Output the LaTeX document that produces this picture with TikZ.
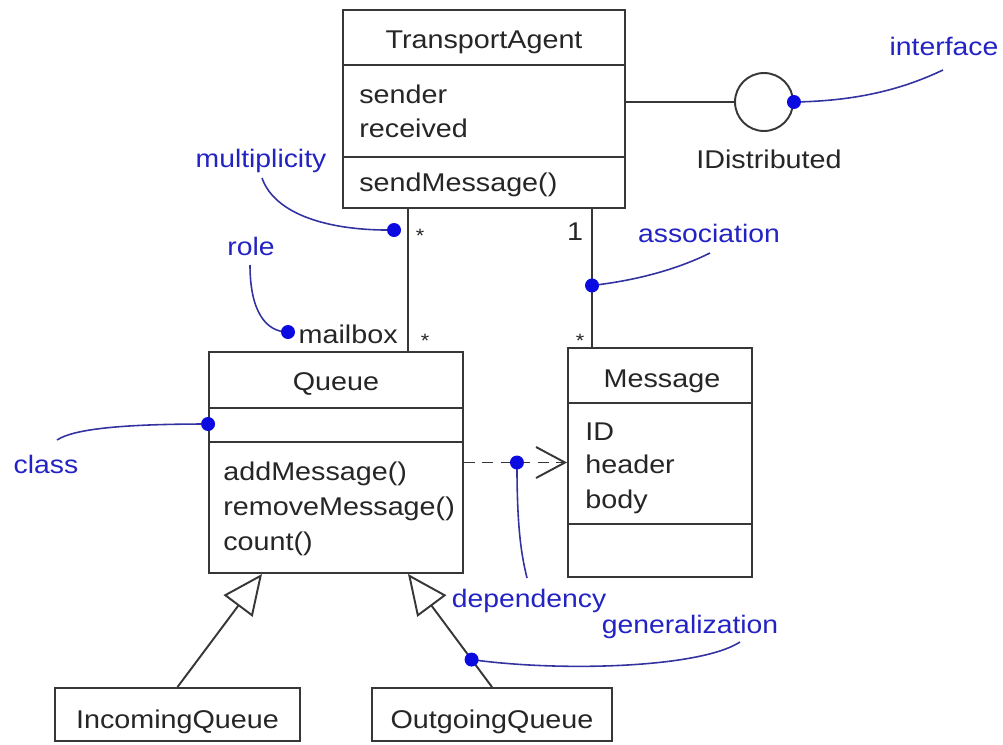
\documentclass[tikz,border=0pt]{standalone}
\usepackage{fontspec}
\setmainfont{Liberation Sans}[FakeStretch=1.12]
\usetikzlibrary{arrows.meta}
\definecolor{noteblue}{RGB}{35,35,195}
\definecolor{pinblue}{RGB}{50,50,160}
\definecolor{dotblue}{RGB}{10,10,225}
\definecolor{umlgray}{RGB}{55,55,55}
\begin{document}
\begin{tikzpicture}[x=0.02cm,y=-0.02cm]
    \tikzstyle{every node}+=[inner sep=0pt]
    \tikzstyle{cls}=[draw=umlgray, line width=1.1pt, fill=white]
    \tikzstyle{txt}=[font=\fontsize{14.6}{17}\selectfont, text=black!85]
    \tikzstyle{note}=[font=\fontsize{14.4}{17}\selectfont, text=noteblue]
    \tikzstyle{star}=[font=\fontsize{11}{13}\selectfont, text=black!85]
    \tikzstyle{link}=[draw=umlgray, line width=1.1pt]
    \tikzstyle{pin}=[draw=pinblue, line width=0.9pt]
    \tikzstyle{dot}=[circle, fill=dotblue, minimum size=0.28cm]
    \useasboundingbox (0,0) rectangle (1003,744);
    \node [cls, minimum width=5.64cm, minimum height=3.96cm] (agent) at (484,109) {};
    \draw [link] (agent.west |- 0,65) -- (agent.east |- 0,65);
    \draw [link] (agent.west |- 0,157) -- (agent.east |- 0,157);
    \node [txt, anchor=base] (agentName) at (484,48) {TransportAgent};
    \node [txt, anchor=base west] (sender) at (359,103) {sender};
    \node [txt, anchor=base west] (received) at (359,137) {received};
    \node [txt, anchor=base west] (sendMsg) at (359,191) {sendMessage()};
    \node [cls, minimum width=5.08cm, minimum height=4.42cm] (queue) at (336,462.5) {};
    \draw [link] (queue.west |- 0,408) -- (queue.east |- 0,408);
    \draw [link] (queue.west |- 0,442) -- (queue.east |- 0,442);
    \node [txt, anchor=base] (queueName) at (336,390) {Queue};
    \node [txt, anchor=base west] (addMsg) at (223,480) {addMessage()};
    \node [txt, anchor=base west] (removeMsg) at (223,515) {removeMessage()};
    \node [txt, anchor=base west] (count) at (223,550) {count()};
    \node [cls, minimum width=3.68cm, minimum height=4.58cm] (message) at (660,462.5) {};
    \draw [link] (message.west |- 0,403) -- (message.east |- 0,403);
    \draw [link] (message.west |- 0,524) -- (message.east |- 0,524);
    \node [txt, anchor=base] (messageName) at (662,387) {Message};
    \node [txt, anchor=base west] (id) at (585,440) {ID};
    \node [txt, anchor=base west] (header) at (585,473) {header};
    \node [txt, anchor=base west] (body) at (585,508) {body};
    \node [cls, minimum width=4.9cm, minimum height=1.06cm] (inQueue) at (177.5,714.5) {};
    \node [txt, anchor=base] at (177.5,728) {IncomingQueue};
    \node [cls, minimum width=4.8cm, minimum height=1.06cm] (outQueue) at (492,714.5) {};
    \node [txt, anchor=base] at (492,728) {OutgoingQueue};
    \node [circle, draw=umlgray, line width=1.1pt, minimum size=1.16cm] (ifc) at (764,102) {};
    \node [txt, anchor=base] (ifcName) at (769,168) {IDistributed};
    \draw [link] (ifc.west) -- (ifc.west -| agent.east);
    \coordinate (qTop) at ([xshift=1.44cm]queue.north);
    \coordinate (mTop) at ([xshift=-1.36cm]message.north);
    \coordinate (qLeft) at ([xshift=-1.48cm]queue.south);
    \coordinate (qRight) at ([xshift=1.44cm]queue.south);
    \draw [link] (qTop) -- (qTop |- agent.south);
    \draw [link] (mTop) -- coordinate[pos=0.446] (assoc) (mTop |- agent.south);
    \draw [link, dash pattern=on 0.22cm off 0.15cm, -{Straight Barb[length=0.58cm, width=0.62cm]}] (queue.east) -- coordinate[pos=0.514] (dep) (message.west);
    \draw [link, -{Triangle[open, fill=white, length=0.8cm, width=0.72cm]}] (inQueue.north) -- (qLeft);
    \draw [link, -{Triangle[open, fill=white, length=0.8cm, width=0.72cm]}] (outQueue.north) -- coordinate[pos=0.243] (gen) (qRight);
    \node [star, anchor=base] at (420,242) {*};
    \node [star, anchor=base] at (425,347) {*};
    \node [star, anchor=base] at (580,347) {*};
    \node [txt, anchor=base] at (575,240) {1};
    \node [txt, anchor=base east] (mailbox) at (398,343) {mailbox};
    \node [note, anchor=base] (lInterface) at (944,55) {interface};
    \node [note, anchor=base] (lMult) at (261,167) {multiplicity};
    \node [note, anchor=base] (lRole) at (251,255) {role};
    \node [note, anchor=base] (lAssoc) at (709,242) {association};
    \node [note, anchor=base] (lClass) at (46,473) {class};
    \node [note, anchor=base] (lDep) at (529,607) {dependency};
    \node [note, anchor=base] (lGen) at (690,633) {generalization};
    \coordinate (multDot) at (394,230);
    \coordinate (roleDot) at (288,332);
    \coordinate (classDot) at (queue.west |- 0,424);
    \draw [pin] (ifc.east) .. controls (860,101) and (905,88) .. (943,70);
    \draw [pin] (multDot) .. controls (330,231) and (275,215) .. (262,178);
    \draw [pin] (roleDot) .. controls (265,332) and (250,310) .. (250,265);
    \draw [pin] (assoc) .. controls (640,280) and (680,268) .. (710,253);
    \draw [pin] (classDot) .. controls (130,424) and (75,428) .. (57,440);
    \draw [pin] (dep) .. controls (517,520) and (520,550) .. (527,578);
    \draw [pin] (gen) .. controls (560,672) and (700,668) .. (740,642);
    \foreach \p in {ifc.east, multDot, roleDot, assoc, classDot, dep, gen}
        \node [dot] at (\p) {};
\end{tikzpicture}
\end{document}
